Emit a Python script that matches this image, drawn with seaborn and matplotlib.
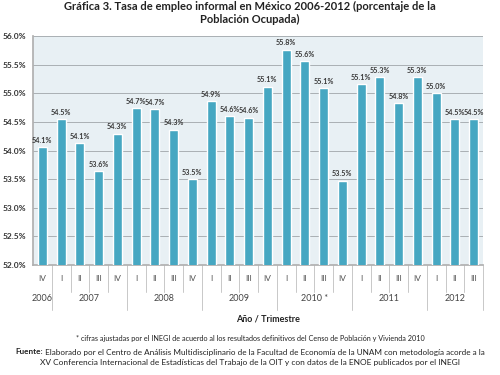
import pandas as pd
import seaborn as sns
import matplotlib.pyplot as plt
import matplotlib.transforms as mtransforms

# datos (lectura del gráfico)
trimestres = ["IV", "I", "II", "III", "IV", "I", "II", "III", "IV", "I", "II", "III",
              "IV", "I", "II", "III", "IV", "I", "II", "III", "IV", "I", "II", "III"]
anios = ["2006", "2007", "2008", "2009", "2010 *", "2011", "2012"]
n_por_anio = [1, 4, 4, 4, 4, 4, 3]
tasa = [54.06, 54.55, 54.13, 53.64, 54.29, 54.74, 54.72, 54.36, 53.50, 54.86, 54.60, 54.57,
        55.11, 55.76, 55.56, 55.09, 53.47, 55.16, 55.28, 54.83, 55.28, 55.00, 54.55, 54.55]
etiquetas = ["54.1%", "54.5%", "54.1%", "53.6%", "54.3%", "54.7%", "54.7%", "54.3%", "53.5%",
             "54.9%", "54.6%", "54.6%", "55.1%", "55.8%", "55.6%", "55.1%", "53.5%", "55.1%",
             "55.3%", "54.8%", "55.3%", "55.0%", "54.5%", "54.5%"]

df = pd.DataFrame({"pos": [str(i) for i in range(len(tasa))], "tasa": tasa})

sns.set_theme(style="white")
plt.rcParams["font.family"] = ["Lato", "DejaVu Sans"]

fig = plt.figure(figsize=(5, 3.75), dpi=100)
ax = fig.add_axes([0.066, 0.2933, 0.9, 0.6107])
ax.set_facecolor("#e8f0f4")

sns.barplot(data=df, x="pos", y="tasa", color="#46a7c2", saturation=1, width=0.48, ax=ax, zorder=3)

ax.set_ylim(52, 56)
ax.set_xlim(-0.5, len(tasa) - 0.5)
yt = [52 + 0.5 * i for i in range(9)]
ax.set_yticks(yt)
ax.set_yticklabels([f"{v:.1f}%" for v in yt], fontsize=6, color="#333333", fontweight="bold")
ax.tick_params(axis="y", length=3, pad=2, color="#999999")
ax.yaxis.grid(True, color="#aab0b4", linewidth=0.7, zorder=0)
ax.set_axisbelow(True)
for s in ["top", "right"]:
    ax.spines[s].set_visible(False)
ax.spines["left"].set_color("#b0b0b0")
ax.spines["bottom"].set_color("#b0b0b0")
ax.set_xticks([])
ax.set_xlabel("")
ax.set_ylabel("")

ax.bar_label(ax.containers[0], labels=etiquetas, padding=2.5, fontsize=5.2,
             color="#3a3a3a", fontweight="bold")

# eje x de dos niveles
trans = mtransforms.blended_transform_factory(ax.transData, ax.transAxes)
ph = 229.0  # alto del área en px
for i, t in enumerate(trimestres):
    ax.text(i, -13 / ph, t, transform=trans, ha="center", va="center",
            fontsize=6, color="#555555", clip_on=False)
ini = 0
for a, n in zip(anios, n_por_anio):
    ax.text(ini + (n - 1) / 2, -33 / ph, a, transform=trans, ha="center", va="center",
            fontsize=6.5, color="#444444", clip_on=False)
    ini += n
fronteras = [sum(n_por_anio[:k + 1]) for k in range(len(n_por_anio))]
for b in range(1, len(tasa) + 1):
    largo = 45 if b in fronteras else 27
    ax.plot([b - 0.5, b - 0.5], [0, -largo / ph], transform=trans, color="#c8c8c8",
            linewidth=0.7, clip_on=False)

fig.text(0.5, 0.984, "Gráfica 3. Tasa de empleo informal en México 2006-2012 (porcentaje de la",
         ha="center", va="center", fontsize=8, fontweight="bold", color="#222222")
fig.text(0.5, 0.947, "Población Ocupada)", ha="center", va="center",
         fontsize=8, fontweight="bold", color="#222222")
fig.text(0.536, 1 - 319 / 375, "Año / Trimestre", ha="center", va="center",
         fontsize=6.5, fontweight="bold", color="#222222")
fig.text(0.5, 1 - 339 / 375,
         "* cifras ajustadas por el INEGI de acuerdo al los resultados definitivos del Censo de Población y Vivienda 2010",
         ha="center", va="center", fontsize=5.2, color="#222222")

# línea "Fuente:" con la palabra en negrita
renderer = fig.canvas.get_renderer()
y2 = 1 - 352 / 375
t_neg = fig.text(0, y2, "Fuente:", ha="left", va="center", fontsize=5.9,
                 fontweight="bold", color="#222222")
t_rest = fig.text(0, y2, " Elaborado por el Centro de Análisis Multidisciplinario de la Facultad de Economía de la UNAM con metodología acorde a la",
                  ha="left", va="center", fontsize=5.9, color="#222222")
w1 = t_neg.get_window_extent(renderer).width
w2 = t_rest.get_window_extent(renderer).width
x0 = (500 - (w1 + w2)) / 2
t_neg.set_x(x0 / 500)
t_rest.set_x((x0 + w1) / 500)

fig.text(0.5, 1 - 363 / 375,
         "XV Conferencia Internacional de Estadísticas del Trabajo de la OIT y con datos de la ENOE publicados por el INEGI",
         ha="center", va="center", fontsize=6.0, color="#222222")

fig.savefig("out.png", dpi=100, facecolor="white")
